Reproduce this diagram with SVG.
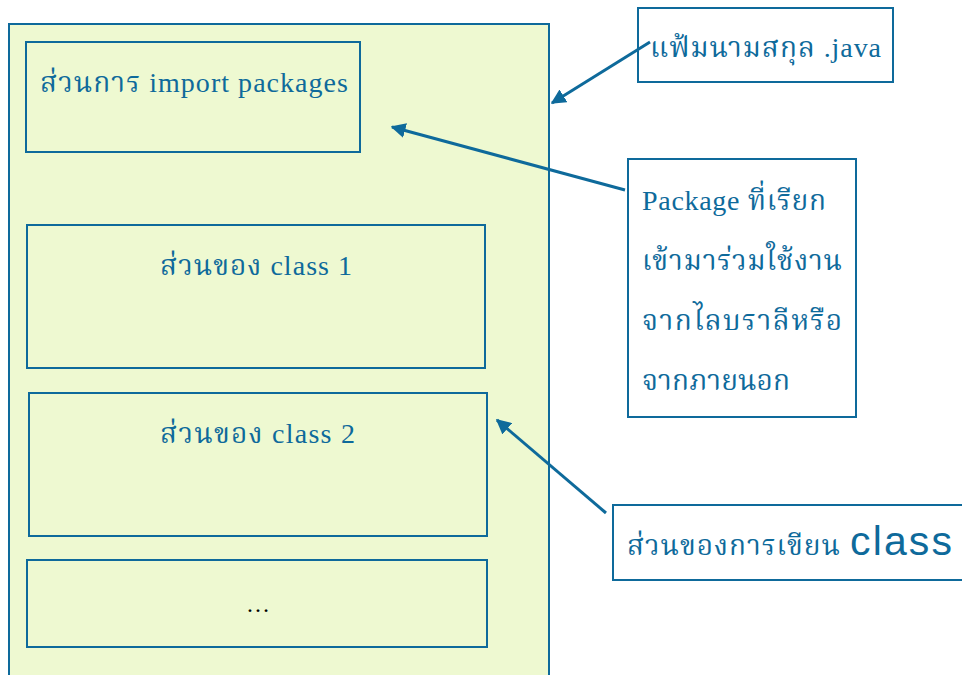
<svg xmlns="http://www.w3.org/2000/svg" width="962" height="675" viewBox="0 0 962 675">
<defs>
<style>
.box{fill:#EEF9D1;stroke:#0E6A9B;stroke-width:2}
.wbox{fill:#FFFFFF;stroke:#0E6A9B;stroke-width:2}
.t{font-family:"Liberation Serif","Noto Serif Thai","Noto Sans Thai",serif;font-size:28px;fill:#0E6A9B}
.c{stroke:#0E6A9B;stroke-width:3;fill:none;marker-end:url(#ah)}
</style>
<marker id="ah" viewBox="0 0 10 10" refX="9" refY="5" markerWidth="5" markerHeight="5" orient="auto" markerUnits="strokeWidth">
<path d="M0,0 L10,5 L0,10 z" fill="#0E6A9B"/>
</marker>
</defs>
<rect width="962" height="675" fill="#FFFFFF"/>
<g id="file">
<rect class="box" x="9" y="24" width="540" height="660"/>
</g>
<g id="import">
<rect class="box" x="26" y="42" width="334" height="110"/>
<text class="t" x="40" y="92" textLength="308">ส่วนการ import packages</text>
</g>
<g id="class1">
<rect class="box" x="27" y="225" width="458" height="143"/>
<text class="t" x="160" y="275" textLength="192">ส่วนของ class 1</text>
</g>
<g id="class2">
<rect class="box" x="29" y="393" width="458" height="143"/>
<text class="t" x="160" y="443" textLength="195">ส่วนของ class 2</text>
</g>
<g id="more">
<rect class="box" x="27" y="560" width="460" height="87"/>
<text x="258" y="612" text-anchor="middle" style="font-family:'Liberation Serif',serif;font-size:24px;fill:#000">…</text>
</g>
<g id="java">
<rect class="wbox" x="638" y="8" width="255" height="74"/>
<text class="t" x="650" y="57" textLength="231">แฟ้มนามสกุล .java</text>
</g>
<g id="package">
<rect class="wbox" x="628" y="159" width="228" height="258"/>
<text class="t" x="642" y="210" textLength="184">Package ที่เรียก</text>
<text class="t" x="642" y="270" textLength="200">เข้ามาร่วมใช้งาน</text>
<text class="t" x="642" y="330" textLength="200">จากไลบราลีหรือ</text>
<text class="t" x="642" y="390" textLength="148">จากภายนอก</text>
</g>
<g id="writing">
<rect class="wbox" x="613" y="505" width="360" height="75"/>
<text class="t" x="627" y="555" textLength="213">ส่วนของการเขียน</text>
<text x="850" y="555" textLength="102" style="font-family:'Liberation Sans',Arial,sans-serif;font-size:41px;fill:#0E6A9B">class</text>
</g>
<g id="connectors">
<path class="c" d="M650,42 L552,103"/>
<path class="c" d="M625,190 L392,127"/>
<path class="c" d="M606,513 L497,420"/>
</g>
</svg>
